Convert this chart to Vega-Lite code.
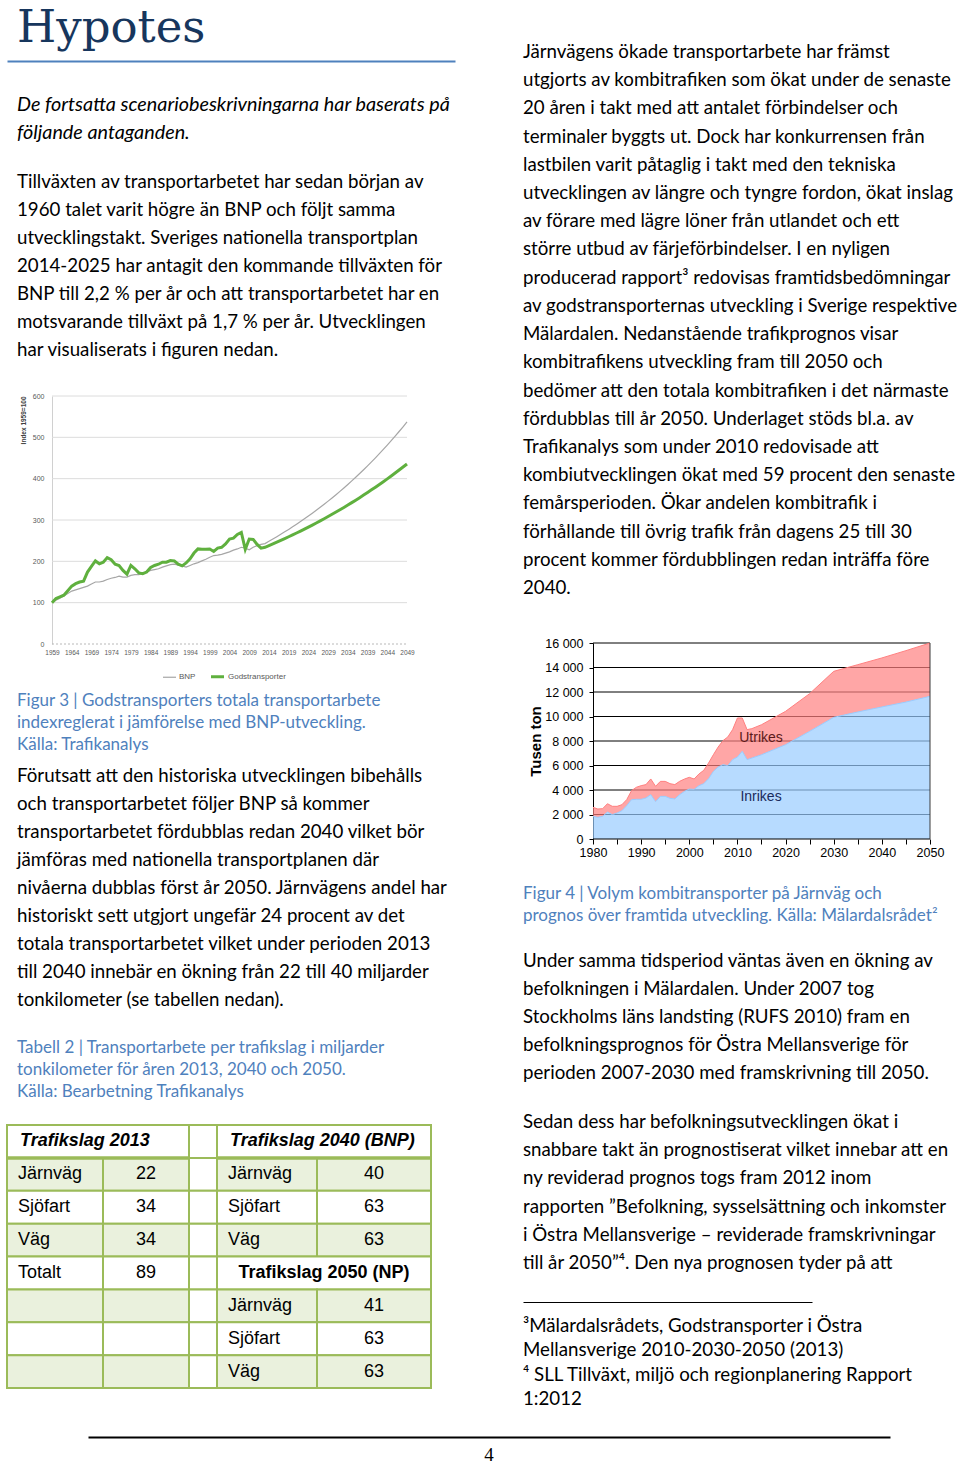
{
"$schema": "https://vega.github.io/schema/vega-lite/v6.json",
"background": "white",
"padding": {"left": 5, "top": 0, "right": 0, "bottom": 0},
"spacing": 27,
"resolve": {"scale": {"color": "independent", "fill": "independent", "strokeWidth": "independent"}},
"datasets": {
"idx": [
{"year":1959,"BNP":100,"Godstransporter":100},{"year":1960,"BNP":106,"Godstransporter":110},{"year":1961,"BNP":111,"Godstransporter":114},{"year":1962,"BNP":116,"Godstransporter":118},{"year":1963,"BNP":122,"Godstransporter":129},{"year":1964,"BNP":128,"Godstransporter":140},{"year":1965,"BNP":131,"Godstransporter":146},{"year":1966,"BNP":134,"Godstransporter":150},{"year":1967,"BNP":137,"Godstransporter":152},{"year":1968,"BNP":140,"Godstransporter":174},{"year":1969,"BNP":145,"Godstransporter":188},{"year":1970,"BNP":150,"Godstransporter":201},{"year":1971,"BNP":150,"Godstransporter":194},{"year":1972,"BNP":152,"Godstransporter":198},{"year":1973,"BNP":156,"Godstransporter":209},{"year":1974,"BNP":159,"Godstransporter":204},{"year":1975,"BNP":161,"Godstransporter":193},{"year":1976,"BNP":164,"Godstransporter":190},{"year":1977,"BNP":162,"Godstransporter":178},{"year":1978,"BNP":162,"Godstransporter":169},{"year":1979,"BNP":166,"Godstransporter":190},{"year":1980,"BNP":168,"Godstransporter":182},{"year":1981,"BNP":168,"Godstransporter":172},{"year":1982,"BNP":170,"Godstransporter":170},{"year":1983,"BNP":174,"Godstransporter":174},{"year":1984,"BNP":178,"Godstransporter":185},{"year":1985,"BNP":180,"Godstransporter":190},{"year":1986,"BNP":182,"Godstransporter":193},{"year":1987,"BNP":186,"Godstransporter":198},{"year":1988,"BNP":189,"Godstransporter":198},{"year":1989,"BNP":192,"Godstransporter":202},{"year":1990,"BNP":193,"Godstransporter":201},{"year":1991,"BNP":191,"Godstransporter":193},{"year":1992,"BNP":189,"Godstransporter":189},{"year":1993,"BNP":186,"Godstransporter":196},{"year":1994,"BNP":190,"Godstransporter":206},{"year":1995,"BNP":194,"Godstransporter":220},{"year":1996,"BNP":197,"Godstransporter":230},{"year":1997,"BNP":201,"Godstransporter":229},{"year":1998,"BNP":205,"Godstransporter":229},{"year":1999,"BNP":210,"Godstransporter":230},{"year":2000,"BNP":214,"Godstransporter":224},{"year":2001,"BNP":215,"Godstransporter":232},{"year":2002,"BNP":217,"Godstransporter":234},{"year":2003,"BNP":220,"Godstransporter":242},{"year":2004,"BNP":223,"Godstransporter":254},{"year":2005,"BNP":227,"Godstransporter":256},{"year":2006,"BNP":230,"Godstransporter":265},{"year":2007,"BNP":234,"Godstransporter":270},{"year":2008,"BNP":232,"Godstransporter":229},{"year":2009,"BNP":228,"Godstransporter":254},{"year":2010,"BNP":234,"Godstransporter":253},{"year":2011,"BNP":238,"Godstransporter":241},{"year":2012,"BNP":241,"Godstransporter":232},{"year":2013,"BNP":243,"Godstransporter":234},
{"year":2014,"BNP":248.4,"Godstransporter":238.1},{"year":2015,"BNP":253.9,"Godstransporter":242.2},{"year":2016,"BNP":259.6,"Godstransporter":246.4},{"year":2017,"BNP":265.4,"Godstransporter":250.7},{"year":2018,"BNP":271.3,"Godstransporter":255.1},{"year":2019,"BNP":277.3,"Godstransporter":259.5},{"year":2020,"BNP":283.5,"Godstransporter":264.0},{"year":2021,"BNP":289.8,"Godstransporter":268.6},{"year":2022,"BNP":296.3,"Godstransporter":273.3},{"year":2023,"BNP":302.9,"Godstransporter":278.1},{"year":2024,"BNP":309.6,"Godstransporter":282.9},{"year":2025,"BNP":316.5,"Godstransporter":287.8},{"year":2026,"BNP":323.6,"Godstransporter":292.8},{"year":2027,"BNP":330.8,"Godstransporter":297.9},{"year":2028,"BNP":338.2,"Godstransporter":303.1},{"year":2029,"BNP":345.7,"Godstransporter":308.4},{"year":2030,"BNP":353.4,"Godstransporter":313.8},{"year":2031,"BNP":361.3,"Godstransporter":319.2},{"year":2032,"BNP":369.3,"Godstransporter":324.8},{"year":2033,"BNP":377.6,"Godstransporter":330.4},{"year":2034,"BNP":386.0,"Godstransporter":336.2},{"year":2035,"BNP":394.6,"Godstransporter":342.0},{"year":2036,"BNP":403.4,"Godstransporter":348.0},{"year":2037,"BNP":412.4,"Godstransporter":354.0},{"year":2038,"BNP":421.6,"Godstransporter":360.2},{"year":2039,"BNP":431.0,"Godstransporter":366.5},{"year":2040,"BNP":440.6,"Godstransporter":372.9},{"year":2041,"BNP":450.4,"Godstransporter":379.4},{"year":2042,"BNP":460.4,"Godstransporter":386.0},{"year":2043,"BNP":470.7,"Godstransporter":392.7},{"year":2044,"BNP":481.2,"Godstransporter":399.5},{"year":2045,"BNP":491.9,"Godstransporter":406.5},{"year":2046,"BNP":502.9,"Godstransporter":413.6},{"year":2047,"BNP":514.1,"Godstransporter":420.8},{"year":2048,"BNP":525.5,"Godstransporter":428.1},{"year":2049,"BNP":537.2,"Godstransporter":435.6}
],
"kombi": [
{"year":1980,"Inrikes":1850,"Utrikes":735},{"year":1981,"Inrikes":1770,"Utrikes":680},{"year":1982,"Inrikes":1850,"Utrikes":626},{"year":1983,"Inrikes":2200,"Utrikes":680},{"year":1984,"Inrikes":1990,"Utrikes":680},{"year":1985,"Inrikes":2120,"Utrikes":545},{"year":1986,"Inrikes":2310,"Utrikes":490},{"year":1987,"Inrikes":2720,"Utrikes":490},{"year":1988,"Inrikes":3210,"Utrikes":735},{"year":1989,"Inrikes":3240,"Utrikes":980},{"year":1990,"Inrikes":3240,"Utrikes":1115},{"year":1991,"Inrikes":3350,"Utrikes":1090},{"year":1992,"Inrikes":3620,"Utrikes":1280},{"year":1993,"Inrikes":3050,"Utrikes":1250},{"year":1994,"Inrikes":3480,"Utrikes":1225},{"year":1995,"Inrikes":3480,"Utrikes":1225},{"year":1996,"Inrikes":3320,"Utrikes":1200},{"year":1997,"Inrikes":3270,"Utrikes":1170},{"year":1998,"Inrikes":3620,"Utrikes":1090},{"year":1999,"Inrikes":3890,"Utrikes":1005},{"year":2000,"Inrikes":4080,"Utrikes":955},{"year":2001,"Inrikes":4050,"Utrikes":850},{"year":2002,"Inrikes":4350,"Utrikes":955},{"year":2003,"Inrikes":4520,"Utrikes":1085},{"year":2004,"Inrikes":4920,"Utrikes":1280},{"year":2005,"Inrikes":5520,"Utrikes":1360},{"year":2006,"Inrikes":5880,"Utrikes":1630},{"year":2007,"Inrikes":6070,"Utrikes":1960},{"year":2008,"Inrikes":5990,"Utrikes":2340},{"year":2009,"Inrikes":6480,"Utrikes":2450},{"year":2010,"Inrikes":6690,"Utrikes":3190},{"year":2011,"Inrikes":7160,"Utrikes":2720},{"year":2012,"Inrikes":6480,"Utrikes":2450},{"year":2013,"Inrikes":6610,"Utrikes":2400},{"year":2015,"Inrikes":6880,"Utrikes":2450},{"year":2020,"Inrikes":7700,"Utrikes":2720},{"year":2025,"Inrikes":8790,"Utrikes":3075},{"year":2030,"Inrikes":9930,"Utrikes":3755},{"year":2035,"Inrikes":10370,"Utrikes":3860},{"year":2040,"Inrikes":10780,"Utrikes":4000},{"year":2045,"Inrikes":11180,"Utrikes":4195},{"year":2050,"Inrikes":11650,"Utrikes":4350}
],
"cells": [
{"row":0,"c0":0,"c1":2,"shade":"w"},{"row":0,"c0":2,"c1":3,"shade":"w"},{"row":0,"c0":3,"c1":5,"shade":"w"},
{"row":1,"c0":0,"c1":1,"shade":"g"},{"row":1,"c0":1,"c1":2,"shade":"g"},{"row":1,"c0":2,"c1":3,"shade":"w"},{"row":1,"c0":3,"c1":4,"shade":"g"},{"row":1,"c0":4,"c1":5,"shade":"g"},
{"row":2,"c0":0,"c1":1,"shade":"w"},{"row":2,"c0":1,"c1":2,"shade":"w"},{"row":2,"c0":2,"c1":3,"shade":"w"},{"row":2,"c0":3,"c1":4,"shade":"w"},{"row":2,"c0":4,"c1":5,"shade":"w"},
{"row":3,"c0":0,"c1":1,"shade":"g"},{"row":3,"c0":1,"c1":2,"shade":"g"},{"row":3,"c0":2,"c1":3,"shade":"w"},{"row":3,"c0":3,"c1":4,"shade":"g"},{"row":3,"c0":4,"c1":5,"shade":"g"},
{"row":4,"c0":0,"c1":1,"shade":"w"},{"row":4,"c0":1,"c1":2,"shade":"w"},{"row":4,"c0":2,"c1":3,"shade":"w"},{"row":4,"c0":3,"c1":5,"shade":"w"},
{"row":5,"c0":0,"c1":1,"shade":"g"},{"row":5,"c0":1,"c1":2,"shade":"g"},{"row":5,"c0":2,"c1":3,"shade":"w"},{"row":5,"c0":3,"c1":4,"shade":"g"},{"row":5,"c0":4,"c1":5,"shade":"g"},
{"row":6,"c0":0,"c1":1,"shade":"w"},{"row":6,"c0":1,"c1":2,"shade":"w"},{"row":6,"c0":2,"c1":3,"shade":"w"},{"row":6,"c0":3,"c1":4,"shade":"w"},{"row":6,"c0":4,"c1":5,"shade":"w"},
{"row":7,"c0":0,"c1":1,"shade":"g"},{"row":7,"c0":1,"c1":2,"shade":"g"},{"row":7,"c0":2,"c1":3,"shade":"w"},{"row":7,"c0":3,"c1":4,"shade":"g"},{"row":7,"c0":4,"c1":5,"shade":"g"}
],
"ttext": [
{"row":0,"tx":0,"label":"Trafikslag 2013","kind":"head"},{"row":0,"tx":3,"label":"Trafikslag 2040 (BNP)","kind":"head"},
{"row":1,"tx":0,"label":"Järnväg","kind":"name"},{"row":1,"tx":1.5,"label":"22","kind":"value"},{"row":1,"tx":3,"label":"Järnväg","kind":"name"},{"row":1,"tx":4.5,"label":"40","kind":"value"},
{"row":2,"tx":0,"label":"Sjöfart","kind":"name"},{"row":2,"tx":1.5,"label":"34","kind":"value"},{"row":2,"tx":3,"label":"Sjöfart","kind":"name"},{"row":2,"tx":4.5,"label":"63","kind":"value"},
{"row":3,"tx":0,"label":"Väg","kind":"name"},{"row":3,"tx":1.5,"label":"34","kind":"value"},{"row":3,"tx":3,"label":"Väg","kind":"name"},{"row":3,"tx":4.5,"label":"63","kind":"value"},
{"row":4,"tx":0,"label":"Totalt","kind":"name"},{"row":4,"tx":1.5,"label":"89","kind":"value"},{"row":4,"tx":4,"label":"Trafikslag 2050 (NP)","kind":"head2"},
{"row":5,"tx":3,"label":"Järnväg","kind":"name"},{"row":5,"tx":4.5,"label":"41","kind":"value"},
{"row":6,"tx":3,"label":"Sjöfart","kind":"name"},{"row":6,"tx":4.5,"label":"63","kind":"value"},
{"row":7,"tx":3,"label":"Väg","kind":"name"},{"row":7,"tx":4.5,"label":"63","kind":"value"}
]
},
"vconcat": [
{"hconcat": [
 {"vconcat": [
   {"width": 448, "height": 61,
    "data": {"values": [{"line": 1, "text": "Hypotes"}]},
    "mark": {"type": "text", "align": "left", "baseline": "middle", "font": "DejaVu Serif", "fontSize": 45, "color": "#17365D", "dx": 10},
    "encoding": {
     "x": {"datum": 0, "type": "quantitative", "scale": {"domain": [0, 1]}, "axis": {"orient": "bottom", "domainColor": "#4F81BD", "domainWidth": 2, "ticks": false, "labels": false, "grid": false, "title": null}},
     "y": {"field": "line", "type": "quantitative", "scale": {"domain": [0.541, 1.541], "reverse": true, "nice": false, "zero": false}, "axis": null},
     "text": {"field": "text"}
    }},
   {"width": 448, "height": 100,
    "data": {"values": [
     {"line": 1, "text": "De fortsatta scenariobeskrivningarna har baserats på"},
     {"line": 2, "text": "följande antaganden."}]},
    "mark": {"type": "text", "align": "left", "baseline": "middle", "font": "Lato", "fontSize": 19.8, "fontStyle": "italic", "color": "#000000", "dx": 10},
    "encoding": {
     "x": {"datum": 0, "type": "quantitative", "scale": {"domain": [0, 1]}, "axis": null},
     "y": {"field": "line", "type": "quantitative", "scale": {"domain": [-0.5714, 3.0], "reverse": true, "nice": false, "zero": false}, "axis": null},
     "text": {"field": "text"}
    }},
   {"width": 448, "height": 235,
    "data": {"values": [
     {"line": 1, "text": "Tillväxten av transportarbetet har sedan början av"},
     {"line": 2, "text": "1960 talet varit högre än BNP och följt samma"},
     {"line": 3, "text": "utvecklingstakt. Sveriges nationella transportplan"},
     {"line": 4, "text": "2014-2025 har antagit den kommande tillväxten för"},
     {"line": 5, "text": "BNP till 2,2 % per år och att transportarbetet har en"},
     {"line": 6, "text": "motsvarande tillväxt på 1,7 % per år. Utvecklingen"},
     {"line": 7, "text": "har visualiserats i figuren nedan."}]},
    "mark": {"type": "text", "align": "left", "baseline": "middle", "font": "Lato", "fontSize": 18.7, "color": "#000000", "dx": 10},
    "encoding": {
     "x": {"datum": 0, "type": "quantitative", "scale": {"domain": [0, 1]}, "axis": null},
     "y": {"field": "line", "type": "quantitative", "scale": {"domain": [0.25, 8.6429], "reverse": true, "nice": false, "zero": false}, "axis": null},
     "text": {"field": "text"}
    }},
   {"width": 400, "height": 248,
    "layer": [
     {"data": {"values": [{"g": 100}, {"g": 200}, {"g": 300}, {"g": 400}, {"g": 500}, {"g": 600}]},
      "mark": {"type": "rule", "color": "#dcdcdc", "strokeWidth": 1},
      "encoding": {
       "x": {"datum": 1959, "type": "quantitative", "scale": {"domain": [1947.592, 2049], "nice": false, "zero": false},
        "axis": {"values": [1959,1964,1969,1974,1979,1984,1989,1994,1999,2004,2009,2014,2019,2024,2029,2034,2039,2044,2049], "format": "d", "title": null, "grid": false, "ticks": false, "domain": false, "labelFont": "Liberation Sans", "labelFontSize": 6.5, "labelColor": "#595959", "labelPadding": 5, "labelFlush": false, "labelOverlap": false}},
       "x2": {"datum": 2049},
       "y": {"field": "g", "type": "quantitative", "scale": {"domain": [0, 600], "nice": false},
        "axis": {"values": [0,100,200,300,400,500,600], "offset": -45, "title": "Index 1959=100", "titleFont": "Liberation Sans", "titleFontSize": 6.5, "titleFontWeight": "bold", "titleColor": "#404040", "titleAnchor": "end", "titlePadding": 6, "labelFont": "Liberation Sans", "labelFontSize": 7, "labelColor": "#595959", "labelPadding": 8, "labelOverlap": false, "ticks": false, "grid": false, "domainColor": "#d0d0d0"}}
      }},
     {"data": {"values": [{"g": 0}]},
      "mark": {"type": "rule", "color": "#b8b8b8", "strokeWidth": 1, "strokeDash": [2, 2]},
      "encoding": {
       "x": {"datum": 1959, "type": "quantitative", "scale": {"domain": [1947.592, 2049], "nice": false, "zero": false},
        "axis": {"values": [1959,1964,1969,1974,1979,1984,1989,1994,1999,2004,2009,2014,2019,2024,2029,2034,2039,2044,2049], "format": "d", "title": null, "grid": false, "ticks": false, "domain": false, "labelFont": "Liberation Sans", "labelFontSize": 6.5, "labelColor": "#595959", "labelPadding": 5, "labelFlush": false, "labelOverlap": false}},
       "x2": {"datum": 2049},
       "y": {"field": "g", "type": "quantitative", "scale": {"domain": [0, 600], "nice": false},
        "axis": {"values": [0,100,200,300,400,500,600], "offset": -45, "title": "Index 1959=100", "titleFont": "Liberation Sans", "titleFontSize": 6.5, "titleFontWeight": "bold", "titleColor": "#404040", "titleAnchor": "end", "titlePadding": 6, "labelFont": "Liberation Sans", "labelFontSize": 7, "labelColor": "#595959", "labelPadding": 8, "labelOverlap": false, "ticks": false, "grid": false, "domainColor": "#d0d0d0"}}
      }},
     {"data": {"name": "idx"},
      "transform": [{"fold": ["BNP", "Godstransporter"], "as": ["series", "value"]}],
      "mark": {"type": "line"},
      "encoding": {
       "x": {"field": "year", "type": "quantitative", "scale": {"domain": [1947.592, 2049], "nice": false, "zero": false},
        "axis": {"values": [1959,1964,1969,1974,1979,1984,1989,1994,1999,2004,2009,2014,2019,2024,2029,2034,2039,2044,2049], "format": "d", "title": null, "grid": false, "ticks": false, "domain": false, "labelFont": "Liberation Sans", "labelFontSize": 6.5, "labelColor": "#595959", "labelPadding": 5, "labelFlush": false, "labelOverlap": false}},
       "y": {"field": "value", "type": "quantitative", "scale": {"domain": [0, 600], "nice": false},
        "axis": {"values": [0,100,200,300,400,500,600], "offset": -45, "title": "Index 1959=100", "titleFont": "Liberation Sans", "titleFontSize": 6.5, "titleFontWeight": "bold", "titleColor": "#404040", "titleAnchor": "end", "titlePadding": 6, "labelFont": "Liberation Sans", "labelFontSize": 7, "labelColor": "#595959", "labelPadding": 8, "labelOverlap": false, "ticks": false, "grid": false, "domainColor": "#d0d0d0"}},
       "color": {"field": "series", "type": "nominal", "scale": {"domain": ["BNP", "Godstransporter"], "range": ["#a6a6a6", "#5fb03e"]},
        "legend": {"orient": "none", "legendX": 155, "legendY": 272, "direction": "horizontal", "title": null, "symbolType": "stroke", "symbolSize": 170, "labelFont": "Liberation Sans", "labelFontSize": 8, "labelColor": "#595959", "columnPadding": 8, "labelOffset": 2}},
       "strokeWidth": {"field": "series", "type": "ordinal", "scale": {"domain": ["BNP", "Godstransporter"], "range": [1.2, 3]},
        "legend": {"orient": "none", "legendX": 155, "legendY": 272, "direction": "horizontal", "title": null, "symbolType": "stroke", "symbolSize": 170, "labelFont": "Liberation Sans", "labelFontSize": 8, "labelColor": "#595959", "columnPadding": 8, "labelOffset": 2}}
      }}
    ]},
   {"width": 448, "height": 116,
    "data": {"values": [
     {"line": 1, "text": "Figur 3 | Godstransporters totala transportarbete"},
     {"line": 2, "text": "indexreglerat i jämförelse med BNP-utveckling."},
     {"line": 3, "text": "Källa: Trafikanalys"}]},
    "mark": {"type": "text", "align": "left", "baseline": "middle", "font": "Lato", "fontSize": 17, "color": "#4F81BD", "dx": 10},
    "encoding": {
     "x": {"datum": 0, "type": "quantitative", "scale": {"domain": [0, 1]}, "axis": null},
     "y": {"field": "line", "type": "quantitative", "scale": {"domain": [-1.5909, 3.6818], "reverse": true, "nice": false, "zero": false}, "axis": null},
     "text": {"field": "text"}
    }},
   {"width": 448, "height": 270,
    "data": {"values": [
     {"line": 1, "text": "Förutsatt att den historiska utvecklingen bibehålls"},
     {"line": 2, "text": "och transportarbetet följer BNP så kommer"},
     {"line": 3, "text": "transportarbetet fördubblas redan 2040 vilket bör"},
     {"line": 4, "text": "jämföras med nationella transportplanen där"},
     {"line": 5, "text": "nivåerna dubblas först år 2050. Järnvägens andel har"},
     {"line": 6, "text": "historiskt sett utgjort ungefär 24 procent av det"},
     {"line": 7, "text": "totala transportarbetet vilket under perioden 2013"},
     {"line": 8, "text": "till 2040 innebär en ökning från 22 till 40 miljarder"},
     {"line": 9, "text": "tonkilometer (se tabellen nedan)."}]},
    "mark": {"type": "text", "align": "left", "baseline": "middle", "font": "Lato", "fontSize": 18.7, "color": "#000000", "dx": 10},
    "encoding": {
     "x": {"datum": 0, "type": "quantitative", "scale": {"domain": [0, 1]}, "axis": null},
     "y": {"field": "line", "type": "quantitative", "scale": {"domain": [0.4286, 10.0714], "reverse": true, "nice": false, "zero": false}, "axis": null},
     "text": {"field": "text"}
    }},
   {"width": 448, "height": 95,
    "data": {"values": [
     {"line": 1, "text": "Tabell 2 | Transportarbete per trafikslag i miljarder"},
     {"line": 2, "text": "tonkilometer för åren 2013, 2040 och 2050."},
     {"line": 3, "text": "Källa: Bearbetning Trafikanalys"}]},
    "mark": {"type": "text", "align": "left", "baseline": "middle", "font": "Lato", "fontSize": 17, "color": "#4F81BD", "dx": 10},
    "encoding": {
     "x": {"datum": 0, "type": "quantitative", "scale": {"domain": [0, 1]}, "axis": null},
     "y": {"field": "line", "type": "quantitative", "scale": {"domain": [0.1818, 4.5], "reverse": true, "nice": false, "zero": false}, "axis": null},
     "text": {"field": "text"}
    }},
   {"width": 424, "height": 263,
    "layer": [
     {"data": {"name": "cells"},
      "mark": {"type": "rect", "stroke": "#9BBB59", "strokeWidth": 2},
      "encoding": {
       "x": {"field": "c0", "type": "quantitative", "scale": {"domain": [0, 1, 2, 3, 4, 5], "range": [0, 96, 182, 210, 310, 424]}, "axis": null},
       "x2": {"field": "c1"},
       "y": {"field": "row", "type": "ordinal", "scale": {"type": "band", "paddingInner": 0, "paddingOuter": 0}, "axis": null},
       "fill": {"field": "shade", "type": "nominal", "scale": {"domain": ["w", "g"], "range": ["#ffffff", "#EAF1DD"]}, "legend": null}
      }},
     {"data": {"values": [{"row": 0, "c0": 0, "c1": 2}, {"row": 0, "c0": 3, "c1": 5}]},
      "mark": {"type": "rule", "color": "#9BBB59", "strokeWidth": 3.5},
      "encoding": {
       "x": {"field": "c0", "type": "quantitative", "axis": null},
       "x2": {"field": "c1"},
       "y": {"field": "row", "type": "ordinal", "bandPosition": 1, "axis": null}
      }},
     {"data": {"name": "ttext"}, "transform": [{"filter": "datum.kind == 'name'"}],
      "mark": {"type": "text", "align": "left", "baseline": "middle", "font": "Liberation Sans", "fontSize": 18, "color": "#000000", "dx": 11},
      "encoding": {"x": {"field": "tx", "type": "quantitative", "axis": null}, "y": {"field": "row", "type": "ordinal", "axis": null}, "text": {"field": "label"}}},
     {"data": {"name": "ttext"}, "transform": [{"filter": "datum.kind == 'value'"}],
      "mark": {"type": "text", "align": "center", "baseline": "middle", "font": "Liberation Sans", "fontSize": 18, "color": "#000000"},
      "encoding": {"x": {"field": "tx", "type": "quantitative", "axis": null}, "y": {"field": "row", "type": "ordinal", "axis": null}, "text": {"field": "label"}}},
     {"data": {"name": "ttext"}, "transform": [{"filter": "datum.kind == 'head'"}],
      "mark": {"type": "text", "align": "left", "baseline": "middle", "font": "Liberation Sans", "fontSize": 18, "fontWeight": "bold", "fontStyle": "italic", "color": "#000000", "dx": 13},
      "encoding": {"x": {"field": "tx", "type": "quantitative", "axis": null}, "y": {"field": "row", "type": "ordinal", "axis": null}, "text": {"field": "label"}}},
     {"data": {"name": "ttext"}, "transform": [{"filter": "datum.kind == 'head2'"}],
      "mark": {"type": "text", "align": "center", "baseline": "middle", "font": "Liberation Sans", "fontSize": 18, "fontWeight": "bold", "color": "#000000", "dx": 7},
      "encoding": {"x": {"field": "tx", "type": "quantitative", "axis": null}, "y": {"field": "row", "type": "ordinal", "axis": null}, "text": {"field": "label"}}}
    ]}
 ], "spacing": 0, "bounds": "flush", "resolve": {"scale": {"color": "independent", "fill": "independent", "strokeWidth": "independent"}}},
 {"vconcat": [
  {"width": 437, "height": 643,
   "data": {"values": [
    {"line": 1, "text": "Järnvägens ökade transportarbete har främst"},
    {"line": 2, "text": "utgjorts av kombitrafiken som ökat under de senaste"},
    {"line": 3, "text": "20 åren i takt med att antalet förbindelser och"},
    {"line": 4, "text": "terminaler byggts ut. Dock har konkurrensen från"},
    {"line": 5, "text": "lastbilen varit påtaglig i takt med den tekniska"},
    {"line": 6, "text": "utvecklingen av längre och tyngre fordon, ökat inslag"},
    {"line": 7, "text": "av förare med lägre löner från utlandet och ett"},
    {"line": 8, "text": "större utbud av färjeförbindelser. I en nyligen"},
    {"line": 9, "text": "producerad rapport³ redovisas framtidsbedömningar"},
    {"line": 10, "text": "av godstransporternas utveckling i Sverige respektive"},
    {"line": 11, "text": "Mälardalen. Nedanstående trafikprognos visar"},
    {"line": 12, "text": "kombitrafikens utveckling fram till 2050 och"},
    {"line": 13, "text": "bedömer att den totala kombitrafiken i det närmaste"},
    {"line": 14, "text": "fördubblas till år 2050. Underlaget stöds bl.a. av"},
    {"line": 15, "text": "Trafikanalys som under 2010 redovisade att"},
    {"line": 16, "text": "kombiutvecklingen ökat med 59 procent den senaste"},
    {"line": 17, "text": "femårsperioden. Ökar andelen kombitrafik i"},
    {"line": 18, "text": "förhållande till övrig trafik från dagens 25 till 30"},
    {"line": 19, "text": "procent kommer fördubblingen redan inträffa före"},
    {"line": 20, "text": "2040."}]},
   "mark": {"type": "text", "align": "left", "baseline": "middle", "font": "Lato", "fontSize": 18.7, "color": "#000000"},
   "encoding": {
    "x": {"datum": 0, "type": "quantitative", "scale": {"domain": [0, 1]}, "axis": null},
    "y": {"field": "line", "type": "quantitative", "scale": {"domain": [-0.8433, 21.95], "reverse": true, "nice": false, "zero": false}, "axis": null},
    "text": {"field": "text"}
   }},
  {"width": 407, "height": 196,
   "layer": [
    {"data": {"values": [{"g": 2000}, {"g": 4000}, {"g": 6000}, {"g": 8000}, {"g": 10000}, {"g": 12000}, {"g": 14000}, {"g": 16000}]},
     "mark": {"type": "rule", "color": "#000000", "strokeWidth": 1},
     "encoding": {
      "x": {"datum": 1980, "type": "quantitative", "scale": {"domain": [1965.46, 2050], "nice": false, "zero": false},
       "axis": {"values": [1980,1985,1990,1995,2000,2005,2010,2015,2020,2025,2030,2035,2040,2045,2050], "labelExpr": "datum.value % 10 == 0 ? datum.label : ''", "format": "d", "title": null, "grid": false, "domain": false, "tickSize": 5, "tickColor": "#000000", "labelFont": "Liberation Sans", "labelFontSize": 12.5, "labelColor": "#000000", "labelPadding": 2, "labelFlush": false, "labelOverlap": false}},
      "x2": {"datum": 2050},
      "y": {"field": "g", "type": "quantitative", "scale": {"domain": [0, 16000], "nice": false},
       "axis": {"values": [0,2000,4000,6000,8000,10000,12000,14000,16000], "offset": -70, "labelExpr": "replace(format(datum.value, ','), ',', ' ')", "title": "Tusen ton", "titleFont": "Liberation Sans", "titleFontSize": 15, "titleFontWeight": "bold", "titleColor": "#000000", "titlePadding": 1, "labelFont": "Liberation Sans", "labelFontSize": 12.5, "labelColor": "#000000", "labelPadding": 6, "labelOverlap": false, "tickSize": 4, "tickColor": "#000000", "domainColor": "#000000", "grid": false}}
     }},
    {"data": {"name": "kombi"},
     "transform": [{"fold": ["Inrikes", "Utrikes"], "as": ["type", "value"]}],
     "mark": {"type": "area", "line": {"color": "#3a3a3a", "strokeWidth": 1}},
     "encoding": {
      "x": {"field": "year", "type": "quantitative", "scale": {"domain": [1965.46, 2050], "nice": false, "zero": false},
       "axis": {"values": [1980,1985,1990,1995,2000,2005,2010,2015,2020,2025,2030,2035,2040,2045,2050], "labelExpr": "datum.value % 10 == 0 ? datum.label : ''", "format": "d", "title": null, "grid": false, "domain": false, "tickSize": 5, "tickColor": "#000000", "labelFont": "Liberation Sans", "labelFontSize": 12.5, "labelColor": "#000000", "labelPadding": 2, "labelFlush": false, "labelOverlap": false}},
      "y": {"field": "value", "type": "quantitative", "stack": "zero", "scale": {"domain": [0, 16000], "nice": false},
       "axis": {"values": [0,2000,4000,6000,8000,10000,12000,14000,16000], "offset": -70, "labelExpr": "replace(format(datum.value, ','), ',', ' ')", "title": "Tusen ton", "titleFont": "Liberation Sans", "titleFontSize": 15, "titleFontWeight": "bold", "titleColor": "#000000", "titlePadding": 1, "labelFont": "Liberation Sans", "labelFontSize": 12.5, "labelColor": "#000000", "labelPadding": 6, "labelOverlap": false, "tickSize": 4, "tickColor": "#000000", "domainColor": "#000000", "grid": false}},
      "color": {"field": "type", "type": "nominal", "scale": {"domain": ["Inrikes", "Utrikes"], "range": ["#99ccff", "#ff8080"]}, "legend": null},
      "order": {"field": "type", "sort": "ascending"}
     }},
    {"data": {"values": [{"g": 0}]},
     "mark": {"type": "rule", "color": "#000000", "strokeWidth": 1},
     "encoding": {
      "x": {"datum": 1980, "type": "quantitative", "scale": {"domain": [1965.46, 2050], "nice": false, "zero": false},
       "axis": {"values": [1980,1985,1990,1995,2000,2005,2010,2015,2020,2025,2030,2035,2040,2045,2050], "labelExpr": "datum.value % 10 == 0 ? datum.label : ''", "format": "d", "title": null, "grid": false, "domain": false, "tickSize": 5, "tickColor": "#000000", "labelFont": "Liberation Sans", "labelFontSize": 12.5, "labelColor": "#000000", "labelPadding": 2, "labelFlush": false, "labelOverlap": false}},
      "x2": {"datum": 2050},
      "y": {"field": "g", "type": "quantitative", "scale": {"domain": [0, 16000], "nice": false},
       "axis": {"values": [0,2000,4000,6000,8000,10000,12000,14000,16000], "offset": -70, "labelExpr": "replace(format(datum.value, ','), ',', ' ')", "title": "Tusen ton", "titleFont": "Liberation Sans", "titleFontSize": 15, "titleFontWeight": "bold", "titleColor": "#000000", "titlePadding": 1, "labelFont": "Liberation Sans", "labelFontSize": 12.5, "labelColor": "#000000", "labelPadding": 6, "labelOverlap": false, "tickSize": 4, "tickColor": "#000000", "domainColor": "#000000", "grid": false}}
     }},
    {"data": {"values": [{"year": 2050}]},
     "mark": {"type": "rule", "color": "#3a3a3a", "strokeWidth": 1},
     "encoding": {
      "x": {"field": "year", "type": "quantitative", "scale": {"domain": [1965.46, 2050], "nice": false, "zero": false},
       "axis": {"values": [1980,1985,1990,1995,2000,2005,2010,2015,2020,2025,2030,2035,2040,2045,2050], "labelExpr": "datum.value % 10 == 0 ? datum.label : ''", "format": "d", "title": null, "grid": false, "domain": false, "tickSize": 5, "tickColor": "#000000", "labelFont": "Liberation Sans", "labelFontSize": 12.5, "labelColor": "#000000", "labelPadding": 2, "labelFlush": false, "labelOverlap": false}},
      "y": {"datum": 0, "type": "quantitative", "scale": {"domain": [0, 16000], "nice": false},
       "axis": {"values": [0,2000,4000,6000,8000,10000,12000,14000,16000], "offset": -70, "labelExpr": "replace(format(datum.value, ','), ',', ' ')", "title": "Tusen ton", "titleFont": "Liberation Sans", "titleFontSize": 15, "titleFontWeight": "bold", "titleColor": "#000000", "titlePadding": 1, "labelFont": "Liberation Sans", "labelFontSize": 12.5, "labelColor": "#000000", "labelPadding": 6, "labelOverlap": false, "tickSize": 4, "tickColor": "#000000", "domainColor": "#000000", "grid": false}},
      "y2": {"datum": 16000}
     }},
    {"data": {"values": [{"label": "Utrikes", "year": 2014.9, "v": 8220}, {"label": "Inrikes", "year": 2014.9, "v": 3450}]},
     "mark": {"type": "text", "font": "Liberation Sans", "fontSize": 14, "align": "center", "baseline": "middle"},
     "encoding": {
      "x": {"field": "year", "type": "quantitative", "scale": {"domain": [1965.46, 2050], "nice": false, "zero": false},
       "axis": {"values": [1980,1985,1990,1995,2000,2005,2010,2015,2020,2025,2030,2035,2040,2045,2050], "labelExpr": "datum.value % 10 == 0 ? datum.label : ''", "format": "d", "title": null, "grid": false, "domain": false, "tickSize": 5, "tickColor": "#000000", "labelFont": "Liberation Sans", "labelFontSize": 12.5, "labelColor": "#000000", "labelPadding": 2, "labelFlush": false, "labelOverlap": false}},
      "y": {"field": "v", "type": "quantitative", "scale": {"domain": [0, 16000], "nice": false},
       "axis": {"values": [0,2000,4000,6000,8000,10000,12000,14000,16000], "offset": -70, "labelExpr": "replace(format(datum.value, ','), ',', ' ')", "title": "Tusen ton", "titleFont": "Liberation Sans", "titleFontSize": 15, "titleFontWeight": "bold", "titleColor": "#000000", "titlePadding": 1, "labelFont": "Liberation Sans", "labelFontSize": 12.5, "labelColor": "#000000", "labelPadding": 6, "labelOverlap": false, "tickSize": 4, "tickColor": "#000000", "domainColor": "#000000", "grid": false}},
      "fill": {"field": "label", "type": "nominal", "scale": {"domain": ["Utrikes", "Inrikes"], "range": ["#5c1a1a", "#1a2a5c"]}, "legend": null},
      "text": {"field": "label"}
     }}
   ], "resolve": {"scale": {"fill": "independent"}}},
  {"width": 437, "height": 101,
   "data": {"values": [
    {"line": 1, "text": "Figur 4 | Volym kombitransporter på Järnväg och"},
    {"line": 2, "text": "prognos över framtida utveckling. Källa: Mälardalsrådet²"}]},
   "mark": {"type": "text", "align": "left", "baseline": "middle", "font": "Lato", "fontSize": 17, "color": "#4F81BD"},
   "encoding": {
    "x": {"datum": 0, "type": "quantitative", "scale": {"domain": [0, 1]}, "axis": null},
    "y": {"field": "line", "type": "quantitative", "scale": {"domain": [-1.5, 3.0909], "reverse": true, "nice": false, "zero": false}, "axis": null},
    "text": {"field": "text"}
   }},
  {"width": 437, "height": 155,
   "data": {"values": [
    {"line": 1, "text": "Under samma tidsperiod väntas även en ökning av"},
    {"line": 2, "text": "befolkningen i Mälardalen. Under 2007 tog"},
    {"line": 3, "text": "Stockholms läns landsting (RUFS 2010) fram en"},
    {"line": 4, "text": "befolkningsprognos för Östra Mellansverige för"},
    {"line": 5, "text": "perioden 2007-2030 med framskrivning till 2050."}]},
   "mark": {"type": "text", "align": "left", "baseline": "middle", "font": "Lato", "fontSize": 18.7, "color": "#000000"},
   "encoding": {
    "x": {"datum": 0, "type": "quantitative", "scale": {"domain": [0, 1]}, "axis": null},
    "y": {"field": "line", "type": "quantitative", "scale": {"domain": [0.25, 5.7857], "reverse": true, "nice": false, "zero": false}, "axis": null},
    "text": {"field": "text"}
   }},
  {"width": 437, "height": 207,
   "data": {"values": [
    {"line": 1, "text": "Sedan dess har befolkningsutvecklingen ökat i"},
    {"line": 2, "text": "snabbare takt än prognostiserat vilket innebar att en"},
    {"line": 3, "text": "ny reviderad prognos togs fram 2012 inom"},
    {"line": 4, "text": "rapporten ”Befolkning, sysselsättning och inkomster"},
    {"line": 5, "text": "i Östra Mellansverige – reviderade framskrivningar"},
    {"line": 6, "text": "till år 2050”⁴. Den nya prognosen tyder på att"}]},
   "mark": {"type": "text", "align": "left", "baseline": "middle", "font": "Lato", "fontSize": 18.7, "color": "#000000"},
   "encoding": {
    "x": {"datum": 0, "type": "quantitative", "scale": {"domain": [0, 1]}, "axis": null},
    "y": {"field": "line", "type": "quantitative", "scale": {"domain": [0.0426, 7.383], "reverse": true, "nice": false, "zero": false}, "axis": null},
    "text": {"field": "text"}
   }},
  {"width": 289, "height": 108,
   "data": {"values": [
    {"line": 1, "text": "³Mälardalsrådets, Godstransporter i Östra"},
    {"line": 2, "text": "Mellansverige 2010-2030-2050 (2013)"},
    {"line": 3, "text": "⁴ SLL Tillväxt, miljö och regionplanering Rapport"},
    {"line": 4, "text": "1:2012"}]},
   "mark": {"type": "text", "align": "left", "baseline": "middle", "font": "Lato", "fontSize": 18.7, "color": "#000000"},
   "encoding": {
    "x": {"datum": 0, "type": "quantitative", "scale": {"domain": [0, 1]}, "axis": {"orient": "top", "domainColor": "#000000", "domainWidth": 1, "ticks": false, "labels": false, "grid": false, "title": null}},
    "y": {"field": "line", "type": "quantitative", "scale": {"domain": [0.0136, 4.4526], "reverse": true, "nice": false, "zero": false}, "axis": null},
    "text": {"field": "text"}
   }}
 ], "spacing": 0, "bounds": "flush", "resolve": {"scale": {"color": "independent", "fill": "independent"}}}
], "spacing": 68, "resolve": {"scale": {"color": "independent", "fill": "independent", "strokeWidth": "independent"}}},
{"hconcat": [
 {"width": 81, "height": 1, "data": {"values": []}, "mark": "point"},
 {"width": 802, "height": 29,
  "data": {"values": [{"line": 1, "text": "4"}]},
  "mark": {"type": "text", "align": "center", "baseline": "middle", "font": "Liberation Sans Narrow", "fontSize": 19, "color": "#000000"},
  "encoding": {
   "x": {"datum": 0.5, "type": "quantitative", "scale": {"domain": [0, 1]}, "axis": {"orient": "top", "domainColor": "#000000", "domainWidth": 2, "ticks": false, "labels": false, "grid": false, "title": null}},
   "y": {"field": "line", "type": "quantitative", "scale": {"domain": [0.3793, 1.3793], "reverse": true, "nice": false, "zero": false}, "axis": null},
   "text": {"field": "text"}
  }}
], "spacing": 0, "bounds": "flush"}
],
"config": {"view": {"stroke": null}, "concat": {"spacing": 0}}
}
